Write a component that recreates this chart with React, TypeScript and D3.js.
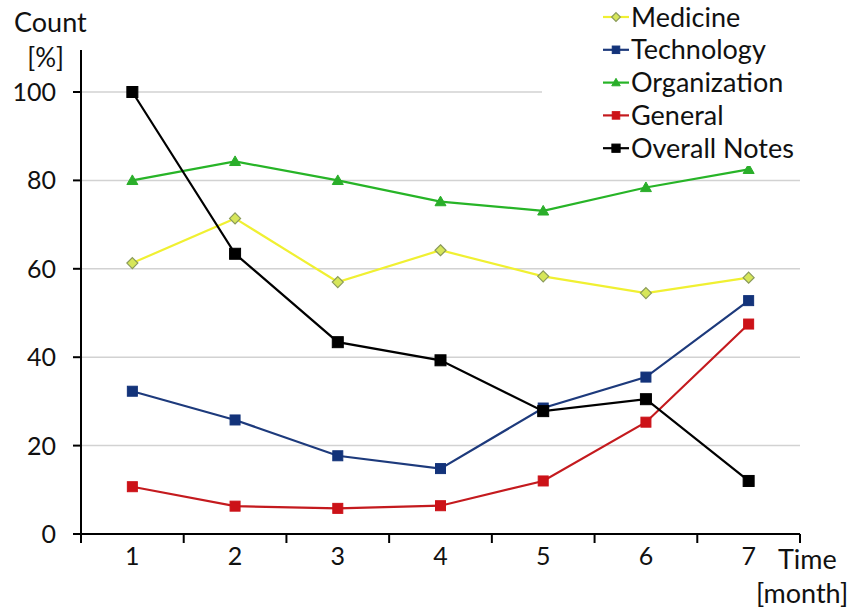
import React from "react";
import * as d3 from "d3";

const months = ["1", "2", "3", "4", "5", "6", "7"];
const medicine = [61.3, 71.4, 57.0, 64.2, 58.3, 54.5, 58.0];
const technology = [32.3, 25.8, 17.7, 14.8, 28.5, 35.5, 52.8];
const organization = [80.0, 84.3, 80.0, 75.2, 73.1, 78.4, 82.5];
const general = [10.7, 6.3, 5.8, 6.4, 12.0, 25.3, 47.5];
const overall = [100, 63.4, 43.4, 39.3, 27.8, 30.5, 12.0];
const yTicks = [0, 20, 40, 60, 80, 100];

type Series = { name: string; values: number[]; color: string; marker: string; fill: string; stroke: string; size: number };

const series: Series[] = [
  { name: "Medicine", values: medicine, color: "#f0f032", marker: "diamond", fill: "#d6e65a", stroke: "#8a9a5a", size: 9 },
  { name: "Technology", values: technology, color: "#1d3a7c", marker: "square", fill: "#13337a", stroke: "#13337a", size: 10 },
  { name: "Organization", values: organization, color: "#27b427", marker: "triangle", fill: "#2aae2a", stroke: "#2aae2a", size: 10 },
  { name: "General", values: general, color: "#c41a1e", marker: "square", fill: "#cc1218", stroke: "#cc1218", size: 10 },
  { name: "Overall Notes", values: overall, color: "#000000", marker: "square", fill: "#000000", stroke: "#000000", size: 11 },
];

const drawOrder = [1, 3, 0, 2, 4];

function Marker({ s, x, y, k }: { s: Series; x: number; y: number; k?: number }) {
  const sz = s.size * (k ?? 1);
  if (s.marker === "square")
    return <rect x={x - sz / 2} y={y - sz / 2} width={sz} height={sz} fill={s.fill} stroke={s.stroke} strokeWidth={1} />;
  if (s.marker === "diamond") {
    const r = sz / 2 + 1;
    return <path d={`M${x},${y - r}L${x + r},${y}L${x},${y + r}L${x - r},${y}Z`} fill={s.fill} stroke={s.stroke} strokeWidth={1.2} />;
  }
  const r = sz / 2 + 0.5;
  return <path d={`M${x},${y - r}L${x + r},${y + r * 0.75}L${x - r},${y + r * 0.75}Z`} fill={s.fill} stroke={s.stroke} strokeWidth={1} />;
}

export default function App() {
  const W = 854, H = 610;
  const left = 81, right = 800, top = 92, bottom = 534;
  const x = d3.scaleBand<string>().domain(months).range([left, right]);
  const y = d3.scaleLinear().domain([0, 100]).range([bottom, top]);
  const line = d3.line<number>().x((_, i) => (x(months[i]) as number) + x.bandwidth() / 2).y((d) => y(d));
  const font = "Lato, 'Open Sans', sans-serif";
  const boundaries = months.map((m) => x(m) as number).concat([right]);

  return (
    <svg width={W} height={H} style={{ position: "absolute", left: 0, top: 0, fontFamily: font }}>
      <rect width={W} height={H} fill="#fff" />
      {yTicks.filter((t) => t > 0).map((t) => (
        <line key={t} x1={left} x2={right} y1={y(t)} y2={y(t)} stroke="#d2d2d2" strokeWidth={1.5} />
      ))}
      {drawOrder.map((i) => {
        const s = series[i];
        return (
          <g key={s.name}>
            <path d={line(s.values) || ""} fill="none" stroke={s.color} strokeWidth={2.2} />
            {s.values.map((v, j) => (
              <Marker key={j} s={s} x={(x(months[j]) as number) + x.bandwidth() / 2} y={y(v)} />
            ))}
          </g>
        );
      })}
      {/* legend */}
      <rect x={542} y={0} width={258} height={166} fill="#fff" />
      {series.map((s, i) => {
        const cy = 17 + i * 32.8;
        return (
          <g key={s.name}>
            <line x1={603} x2={629} y1={cy} y2={cy} stroke={s.color} strokeWidth={2.2} />
            <Marker s={s} x={616} y={cy} k={0.75} />
            <text x={631} y={cy + 9.5} fontSize={27} fill="#111">{s.name}</text>
          </g>
        );
      })}
      {/* axes */}
      <line x1={left} x2={left} y1={50} y2={bottom + 1} stroke="#000" strokeWidth={2} />
      <line x1={left - 8} x2={right} y1={bottom} y2={bottom} stroke="#000" strokeWidth={2} />
      {yTicks.map((t) => (
        <g key={t}>
          <line x1={left - 8} x2={left} y1={y(t)} y2={y(t)} stroke="#000" strokeWidth={2} />
          <text x={56} y={y(t) + 9} fontSize={25} textAnchor="end" fill="#111">{t}</text>
        </g>
      ))}
      {boundaries.map((b, i) => (
        <line key={i} x1={b} x2={b} y1={bottom} y2={bottom + 9} stroke="#000" strokeWidth={2} />
      ))}
      {months.map((m) => (
        <text key={m} x={(x(m) as number) + x.bandwidth() / 2} y={565} fontSize={25} textAnchor="middle" fill="#111">{m}</text>
      ))}
      <text x={14} y={32} fontSize={27} fill="#111">Count</text>
      <text x={64} y={67} fontSize={26} textAnchor="end" fill="#111">[%]</text>
      <text x={778} y={569} fontSize={27} fill="#111">Time</text>
      <text x={756} y={603} fontSize={27} fill="#111">[month]</text>
    </svg>
  );
}
